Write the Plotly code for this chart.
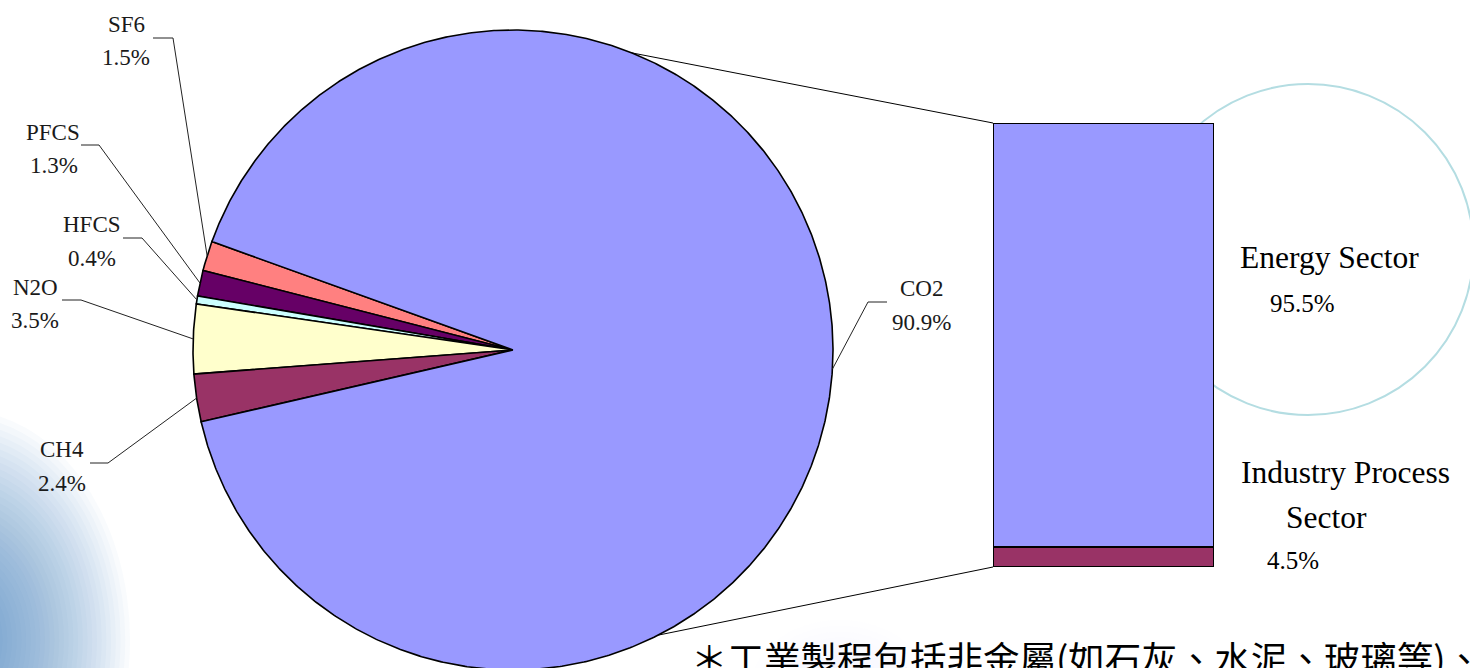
import numpy as np
import plotly.graph_objects as go

W, H = 1470, 668

# ---------------- data ----------------
gases = ["SF6", "PFCS", "HFCS", "N2O", "CH4", "CO2"]
gas_shares = [1.5, 1.3, 0.4, 3.5, 2.4, 90.9]
gas_colors = ["#FF8080", "#660066", "#CCFFFF", "#FFFFCC", "#993366", "#9999FF"]

sectors = ["Industry Process Sector", "Energy Sector"]
sector_shares = [4.5, 95.5]
sector_colors = ["#993366", "#9999FF"]

footnote = "＊工業製程包括非金屬(如石灰、水泥、玻璃等)、"

# ---------------- layout constants (pixels) ----------------
CX, CY, R = 513, 350, 320
START_DEG = 160.2
BAR_X0, BAR_X1, BAR_Y0, BAR_Y1 = 993, 1214, 123, 567
CONNECT_ANGLES = [68.2, -63.0]

# label name centre, value centre, elbow points for each gas
gas_label_layout = {
    "SF6":  dict(name=(126, 24), val=(126, 57), elbow=[(153, 38), (173, 38)]),
    "PFCS": dict(name=(53, 132), val=(54, 165), elbow=[(81, 145), (99, 145)]),
    "HFCS": dict(name=(92, 224), val=(92, 258), elbow=[(123, 238), (142, 238)]),
    "N2O":  dict(name=(35, 287), val=(35, 320), elbow=[(62, 300), (81, 300)]),
    "CH4":  dict(name=(62, 449), val=(62, 483), elbow=[(90, 463), (108, 463)]),
    "CO2":  dict(name=(921, 288), val=(921, 322), elbow=[(887, 302), (868, 302)]),
}

SERIF = "Liberation Serif, Times New Roman, serif"

fig = go.Figure()

# ---------------- pie wedges ----------------
a = START_DEG
mids = {}
for g, s, c in zip(gases, gas_shares, gas_colors):
    span = s * 3.6
    th = np.radians(np.linspace(a, a + span, max(4, int(span * 3))))
    xs = np.concatenate([[CX], CX + R * np.cos(th), [CX]])
    ys = np.concatenate([[CY], CY - R * np.sin(th), [CY]])
    fig.add_trace(go.Scatter(x=xs, y=ys, mode="lines", fill="toself",
                             fillcolor=c, line=dict(color="black", width=1.6),
                             hoverinfo="skip", showlegend=False))
    mids[g] = a + span / 2
    a += span

# ---------------- leader lines & labels ----------------
annotations = []
for g, s in zip(gases, gas_shares):
    lay = gas_label_layout[g]
    m = np.radians(mids[g])
    px, py = CX + R * np.cos(m), CY - R * np.sin(m)
    xs = [p[0] for p in lay["elbow"]] + [px]
    ys = [p[1] for p in lay["elbow"]] + [py]
    fig.add_trace(go.Scatter(x=xs, y=ys, mode="lines",
                             line=dict(color="#222222", width=1),
                             hoverinfo="skip", showlegend=False))
    annotations.append(dict(x=lay["name"][0], y=lay["name"][1], text=g,
                            xref="x", yref="y", showarrow=False,
                            font=dict(family=SERIF, size=23, color="#1a1a1a"),
                            xanchor="center", yanchor="middle"))
    annotations.append(dict(x=lay["val"][0], y=lay["val"][1], text=f"{s:.1f}%",
                            xref="x", yref="y", showarrow=False,
                            font=dict(family=SERIF, size=23, color="#1a1a1a"),
                            xanchor="center", yanchor="middle"))

# ---------------- connector lines pie -> bar ----------------
for ang, by in zip(CONNECT_ANGLES, [BAR_Y0, BAR_Y1]):
    r = np.radians(ang)
    fig.add_trace(go.Scatter(x=[CX + R * np.cos(r), BAR_X0], y=[CY - R * np.sin(r), by],
                             mode="lines", line=dict(color="black", width=1),
                             hoverinfo="skip", showlegend=False))

# ---------------- bar of CO2 breakdown ----------------
for n, s, c in zip(sectors, sector_shares, sector_colors):
    fig.add_trace(go.Bar(x=[0], y=[s], width=1, name=n, marker_color=c,
                         marker_line=dict(color="black", width=1.6),
                         xaxis="x2", yaxis="y2", hoverinfo="skip", showlegend=False))

sector_text = [
    ("Energy Sector", 1329, 257, 31.5),
    (f"{sector_shares[1]:.1f}%", 1302, 303, 25),
    ("Industry Process", 1345, 472, 31.5),
    ("Sector", 1326, 517, 31.5),
    (f"{sector_shares[0]:.1f}%", 1293, 560, 25),
]
for t, x, y, sz in sector_text:
    annotations.append(dict(x=x, y=y, text=t, xref="x", yref="y", showarrow=False,
                            font=dict(family=SERIF, size=sz, color="black"),
                            xanchor="center", yanchor="middle"))

annotations.append(dict(x=689, y=657, text=footnote, xref="x", yref="y",
                        showarrow=False, xanchor="left", yanchor="middle",
                        font=dict(family="Noto Sans CJK TC", size=36.5, color="black")))

# ---------------- decorative background ----------------
shapes = []
n_layers = 36
for i in range(n_layers):
    f = 1 - i / n_layers
    shapes.append(dict(type="circle", xref="x", yref="y", layer="below",
                       x0=-40 - 170 * f, x1=-40 + 170 * f,
                       y0=640 - 230 * f, y1=640 + 230 * f,
                       line=dict(width=0), fillcolor="rgba(75,130,205,0.032)"))
for i in range(12):
    f = 1 - i / 12
    shapes.append(dict(type="circle", xref="x", yref="y", layer="below",
                       x0=840 - 90 * f, x1=840 + 90 * f,
                       y0=690 - 70 * f, y1=690 + 70 * f,
                       line=dict(width=0), fillcolor="rgba(150,190,230,0.012)"))
shapes.append(dict(type="circle", xref="x", yref="y", layer="below",
                   x0=1308 - 165.5, x1=1308 + 165.5, y0=249.5 - 165.5, y1=249.5 + 165.5,
                   line=dict(color="#B4DDE2", width=2)))

fig.update_layout(
    width=W, height=H,
    margin=dict(l=0, r=0, t=0, b=0),
    paper_bgcolor="white", plot_bgcolor="rgba(0,0,0,0)",
    barmode="stack",
    xaxis=dict(range=[0, W], domain=[0, 1], visible=False, fixedrange=True),
    yaxis=dict(range=[H, 0], domain=[0, 1], visible=False, fixedrange=True),
    xaxis2=dict(range=[-0.5, 0.5], domain=[BAR_X0 / W, BAR_X1 / W], anchor="y2",
                visible=False, fixedrange=True),
    yaxis2=dict(range=[0, 100], domain=[1 - BAR_Y1 / H, 1 - BAR_Y0 / H], anchor="x2",
                visible=False, fixedrange=True),
    annotations=annotations,
    shapes=shapes,
    showlegend=False,
)

fig.write_html("out.html", config={"displayModeBar": False})
